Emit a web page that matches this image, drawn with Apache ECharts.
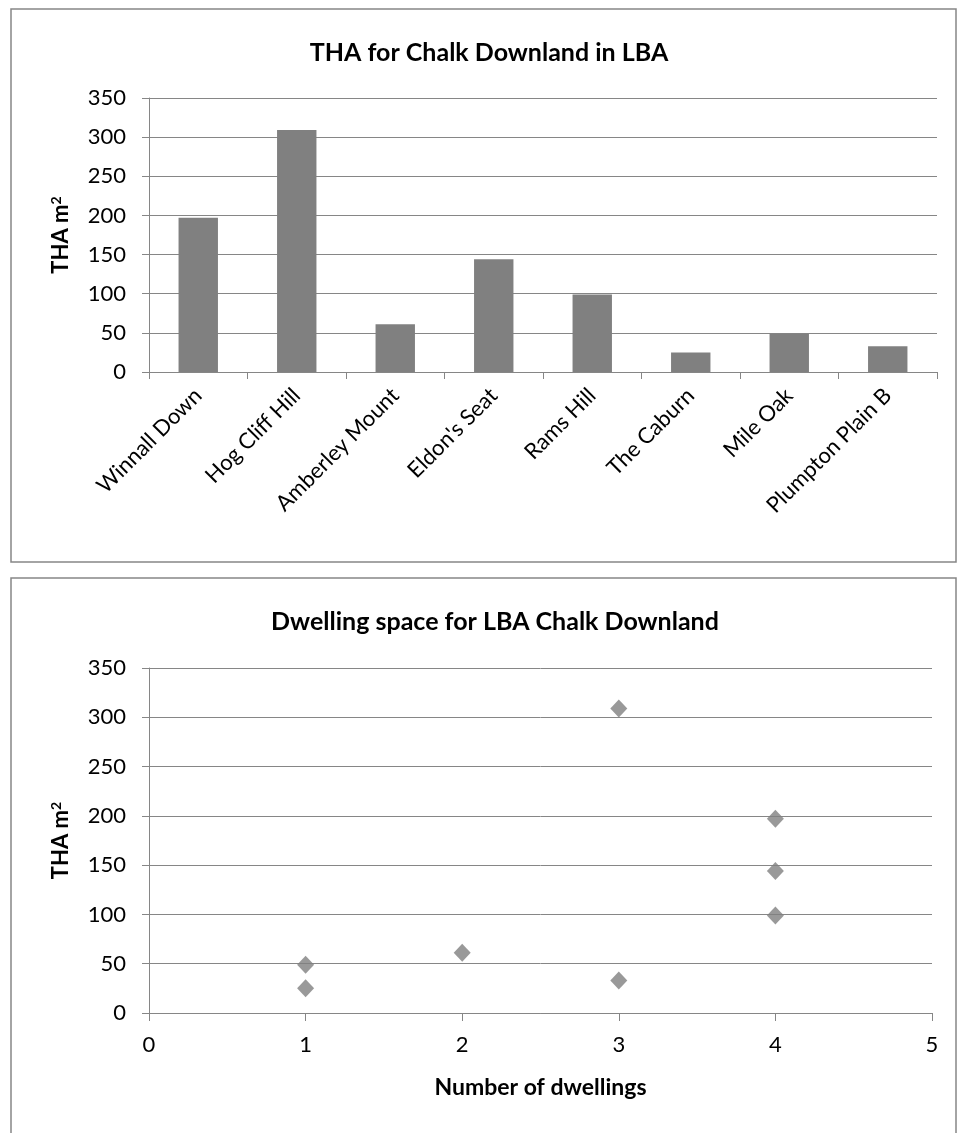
<!DOCTYPE html>
<html>
<head>
<meta charset="utf-8">
<script src="https://cdn.jsdelivr.net/npm/echarts@6/dist/echarts.min.js"></script>
<style>
  html, body { margin: 0; padding: 0; background: #fff; }
  #chart { width: 960px; height: 1133px; }
</style>
</head>
<body>
<div id="chart"></div>
<script>
// Sites on Late Bronze Age chalk downland
const sites = ['Winnall Down', 'Hog Cliff Hill', 'Amberley Mount', "Eldon's Seat",
               'Rams Hill', 'The Caburn', 'Mile Oak', 'Plumpton Plain B'];
// Total house area per site (m²)
const thaValues = [197, 309, 61, 144, 99, 25, 49, 33];
// Number of dwellings per site
const dwellings = [4, 3, 2, 4, 4, 1, 1, 3];
// Axis ticks
const yTicks = { min: 0, max: 350, interval: 50 };
const xTicks = { min: 0, max: 5, interval: 1 };

const FONT = 'Lato, "Open Sans", sans-serif';
const GRAY = '#868686';

const scatterData = dwellings.map((d, i) => [d, thaValues[i]]);

const valueYAxis = (gridIndex) => ({
  type: 'value',
  gridIndex,
  min: yTicks.min, max: yTicks.max, interval: yTicks.interval,
  name: 'THA m{sup|2}',
  nameLocation: 'middle',
  nameRotate: 90,
  nameGap: 76,
  nameTextStyle: {
    fontFamily: FONT, fontSize: 22, fontWeight: 'bold', color: '#000',
    rich: { sup: { fontFamily: FONT, fontSize: 14, fontWeight: 'bold', color: '#000', verticalAlign: 'top', padding: [0, 0, 10, 0] } }
  },
  axisLine: { show: true, lineStyle: { color: GRAY, width: 1 } },
  axisTick: { show: true, length: 7, lineStyle: { color: GRAY } },
  axisLabel: { fontFamily: FONT, fontSize: 22, color: '#000', margin: 23 },
  splitLine: { show: true, lineStyle: { color: GRAY, width: 1 } }
});

const option = {
  animation: false,
  backgroundColor: '#fff',
  graphic: [
    { type: 'rect', shape: { x: 11, y: 9, width: 945, height: 553 },
      style: { fill: 'none', stroke: GRAY, lineWidth: 1.5 }, silent: true },
    { type: 'rect', shape: { x: 11, y: 578, width: 945, height: 570 },
      style: { fill: 'none', stroke: GRAY, lineWidth: 1.5 }, silent: true }
  ],
  title: [
    { text: 'THA for Chalk Downland in LBA', left: 484, top: 35, textAlign: 'center',
      textStyle: { fontFamily: FONT, fontSize: 25, fontWeight: 'bold', color: '#000' } },
    { text: 'Dwelling space for LBA Chalk Downland', left: 490, top: 604, textAlign: 'center',
      textStyle: { fontFamily: FONT, fontSize: 25, fontWeight: 'bold', color: '#000' } }
  ],
  grid: [
    { left: 149, top: 98, width: 788, height: 274 },
    { left: 149, top: 668, width: 783, height: 345 }
  ],
  xAxis: [
    {
      type: 'category', gridIndex: 0, data: sites,
      axisLine: { show: true, lineStyle: { color: GRAY, width: 1 } },
      axisTick: { show: true, length: 7, lineStyle: { color: GRAY } },
      axisLabel: { fontFamily: FONT, fontSize: 22, color: '#000', rotate: 45, margin: 20, interval: 0 },
      splitLine: { show: false }
    },
    {
      type: 'value', gridIndex: 1,
      min: xTicks.min, max: xTicks.max, interval: xTicks.interval,
      name: 'Number of dwellings',
      nameLocation: 'middle',
      nameGap: 63,
      nameTextStyle: { fontFamily: FONT, fontSize: 23, fontWeight: 'bold', color: '#000', verticalAlign: 'top' },
      axisLine: { show: true, onZero: false, lineStyle: { color: GRAY, width: 1 } },
      axisTick: { show: true, length: 8, lineStyle: { color: GRAY } },
      axisLabel: { fontFamily: FONT, fontSize: 22, color: '#000', margin: 21 },
      splitLine: { show: false }
    }
  ],
  yAxis: [valueYAxis(0), valueYAxis(1)],
  series: [
    {
      type: 'bar', xAxisIndex: 0, yAxisIndex: 0,
      data: thaValues,
      barWidth: '40%',
      itemStyle: { color: '#808080' }
    },
    {
      type: 'scatter', xAxisIndex: 1, yAxisIndex: 1,
      data: scatterData,
      symbol: 'diamond',
      symbolSize: [17, 18],
      itemStyle: { color: '#808080' }
    }
  ]
};

echarts.init(document.getElementById('chart'), null, { renderer: 'canvas' }).setOption(option);
</script>
</body>
</html>
